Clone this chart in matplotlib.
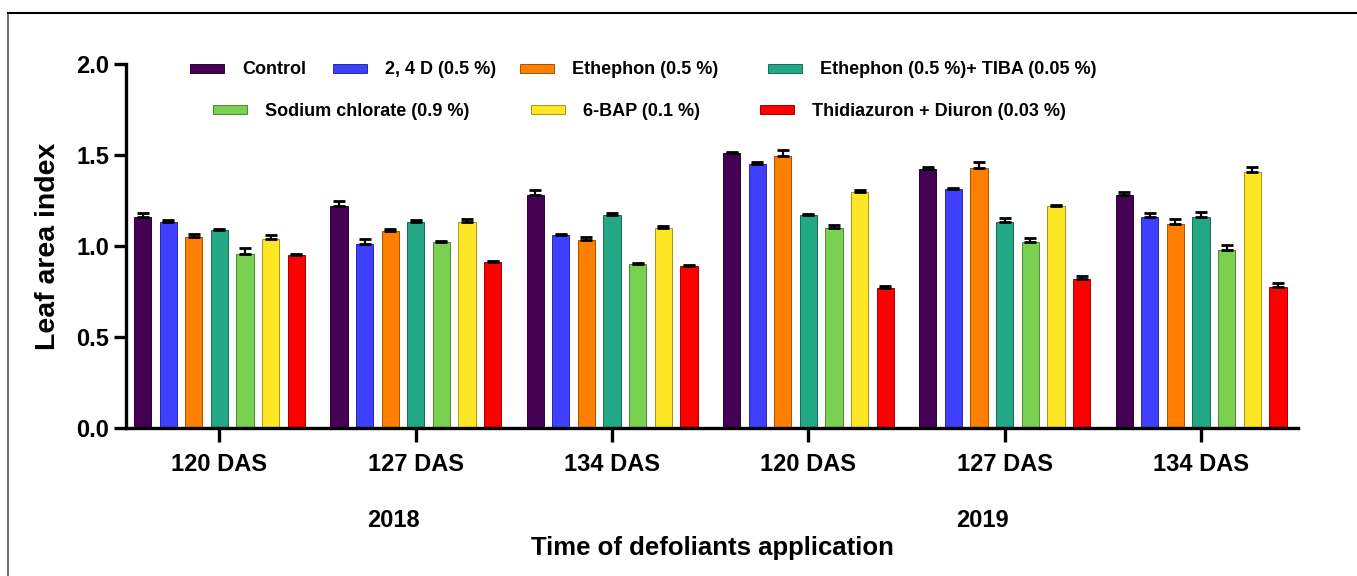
import numpy as np
import matplotlib
matplotlib.use("Agg")
import matplotlib.pyplot as plt
from matplotlib import font_manager
from matplotlib.lines import Line2D
from matplotlib.colors import to_rgb

# ---------------- data ----------------
groups = ["120 DAS", "127 DAS", "134 DAS", "120 DAS", "127 DAS", "134 DAS"]
years = ["2018", "2019"]
treatments = ["Control", "2, 4 D (0.5 %)", "Ethephon (0.5 %)",
              "Ethephon (0.5 %)+ TIBA (0.05 %)", "Sodium chlorate (0.9 %)",
              "6-BAP (0.1 %)", "Thidiazuron + Diuron (0.03 %)"]
colors = ["#440154", "#3f3fff", "#ff7f00", "#22a884", "#7ad151", "#fde725", "#ff0000"]

control = [1.157, 1.221, 1.281, 1.510, 1.423, 1.281]
d24 = [1.131, 1.009, 1.059, 1.449, 1.313, 1.157]
ethephon = [1.052, 1.083, 1.033, 1.493, 1.427, 1.123]
eth_tiba = [1.090, 1.131, 1.171, 1.171, 1.131, 1.157]
sodium = [0.956, 1.022, 0.903, 1.101, 1.022, 0.980]
bap = [1.041, 1.131, 1.099, 1.294, 1.221, 1.405]
thid = [0.949, 0.910, 0.890, 0.770, 0.816, 0.776]

control_err = [0.024, 0.029, 0.028, 0.006, 0.013, 0.013]
d24_err = [0.011, 0.028, 0.006, 0.015, 0.004, 0.024]
ethephon_err = [0.015, 0.013, 0.017, 0.035, 0.033, 0.024]
eth_tiba_err = [0.003, 0.013, 0.013, 0.004, 0.024, 0.028]
sodium_err = [0.031, 0.006, 0.004, 0.015, 0.022, 0.024]
bap_err = [0.020, 0.020, 0.009, 0.013, 0.004, 0.031]
thid_err = [0.009, 0.006, 0.004, 0.009, 0.020, 0.018]

series = [control, d24, ethephon, eth_tiba, sodium, bap, thid]
errors = [control_err, d24_err, ethephon_err, eth_tiba_err, sodium_err, bap_err, thid_err]

# ---------------- fonts ----------------
names = {f.name for f in font_manager.fontManager.ttflist}
has_narrow = "Liberation Sans Narrow" in names
base = "Liberation Sans"
narrow = "Liberation Sans Narrow" if has_narrow else base
plt.rcParams["font.family"] = [base, "DejaVu Sans"]

leg_fs = 15.5 if has_narrow else 13
xlab_fs = 22 if has_narrow else 18.5
year_fs = 20 if has_narrow else 17

W, H = 1357, 576
fig = plt.figure(figsize=(W / 100, H / 100), dpi=100)
ax = fig.add_axes([126 / W, 1 - 428 / H, (1298 - 126) / W, (428 - 64) / H])

x = np.arange(len(groups))
pitch = 0.1305
width = 0.088
n = len(series)

handles = []
for j, (vals, errs, c) in enumerate(zip(series, errors, colors)):
    pos = x + (j - (n - 1) / 2) * pitch
    edge = tuple(v * 0.65 for v in to_rgb(c))
    b = ax.bar(pos, vals, width=width, color=c, edgecolor=edge, linewidth=0.7, zorder=2)
    ax.errorbar(pos, vals, yerr=[np.zeros(len(vals)), errs], fmt="none",
                ecolor="black", elinewidth=1.6, capsize=4, capthick=2, zorder=3)
    handles.append(b)

ax.set_xlim(-0.476, 5.494)
ax.set_ylim(0, 2.0)
ax.set_yticks([0.0, 0.5, 1.0, 1.5, 2.0])
ax.set_yticklabels(["0.0", "0.5", "1.0", "1.5", "2.0"])
ax.set_xticks(x)
ax.set_xticklabels(groups)
for s in ["top", "right"]:
    ax.spines[s].set_visible(False)
for s in ["left", "bottom"]:
    ax.spines[s].set_linewidth(2.4)
ax.tick_params(axis="both", direction="out", length=9, width=2.4, labelsize=17)
ax.tick_params(axis="y", pad=3)
ax.tick_params(axis="x", length=10, pad=8)
for lab in ax.get_xticklabels() + ax.get_yticklabels():
    lab.set_fontweight("bold")

ax.set_ylabel("Leaf area index", fontsize=20.5, fontweight="bold", labelpad=11)
ax.set_xlabel("Time of defoliants application", fontsize=xlab_fs, fontweight="bold",
              family=[narrow, "DejaVu Sans"], labelpad=43)

# year labels
for k, yr in enumerate(years):
    xc = np.mean(x[3 * k:3 * k + 3]) - 0.115
    ax.text(xc, -0.255, yr, transform=ax.get_xaxis_transform(), ha="center", va="center",
            fontsize=year_fs, fontweight="bold", family=[narrow, "DejaVu Sans"])

# legend entries (placed individually, like the reference)
leg_pos = [(190, 70), (333, 70), (520, 70), (768, 70), (213, 111), (531, 111), (760, 111)]
for h, lab, (px, py) in zip(handles, treatments, leg_pos):
    fs_px = leg_fs * 100 / 72
    fig.legend([h], [lab], loc="center left", bbox_to_anchor=(px / W, 1 - py / H),
               bbox_transform=fig.transFigure, frameon=False, borderpad=0,
               borderaxespad=0, handlelength=34 / fs_px, handleheight=7 / fs_px,
               handletextpad=18 / fs_px,
               prop={"family": [narrow, "DejaVu Sans"], "weight": "bold", "size": leg_fs})

# figure frame lines (left and top)
fig.add_artist(Line2D([8 / W, 8 / W], [0, 1 - 13 / H], transform=fig.transFigure,
                      color="#555555", linewidth=1.2))
fig.add_artist(Line2D([8 / W, 1], [1 - 13 / H, 1 - 13 / H], transform=fig.transFigure,
                      color="black", linewidth=1.5))

fig.savefig("out.png", dpi=100)
